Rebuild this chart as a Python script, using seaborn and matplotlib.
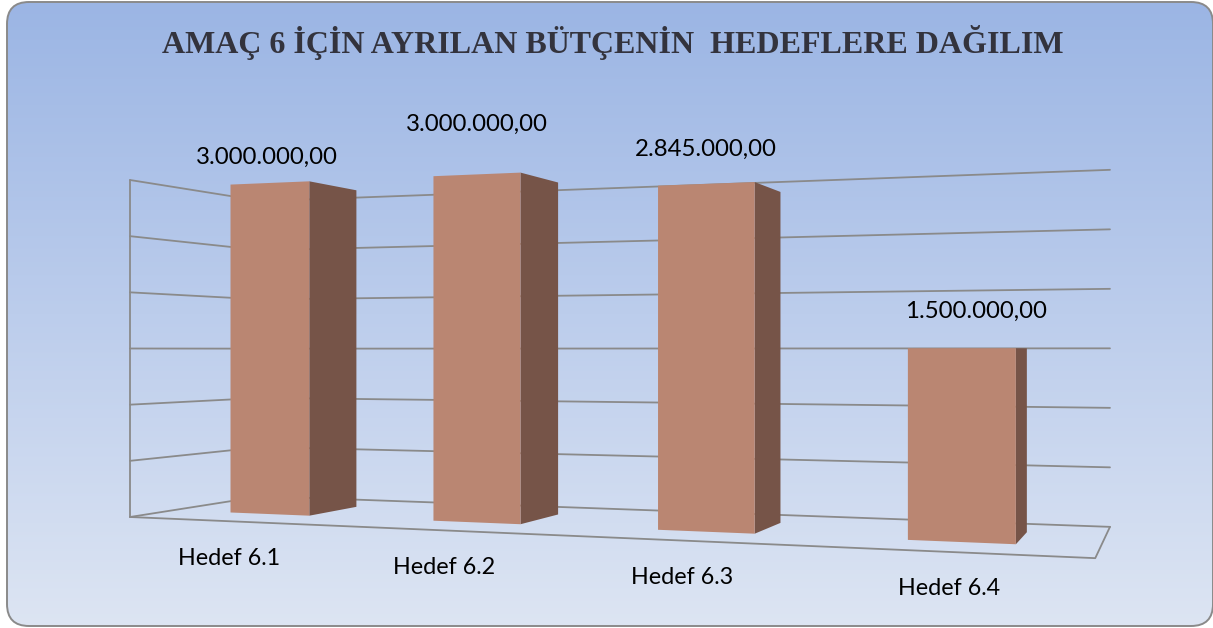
import numpy as np
import matplotlib
matplotlib.use('Agg')
import matplotlib.pyplot as plt
import seaborn as sns
from matplotlib.transforms import Transform, IdentityTransform, blended_transform_factory
from matplotlib.patches import FancyBboxPatch
from matplotlib.colors import LinearSegmentedColormap

# ── data ────────────────────────────────────────────────────────────────────
categories = ['Hedef 6.1', 'Hedef 6.2', 'Hedef 6.3', 'Hedef 6.4']
budgets = [3000000, 3000000, 2845000, 1500000]
grid_ticks = [0, 500000, 1000000, 1500000, 2000000, 2500000, 3000000]
title = 'AMAÇ 6 İÇİN AYRILAN BÜTÇENİN  HEDEFLERE DAĞILIM'

# value labels were nudged by hand in the original slide (pixels: right, up)
label_offsets = [(-3, 26), (0, 50), (0, 35), (15, 37)]

W, H = 1213, 628
FRONT, BACK = 0.3, 0.7   # bar depth inside the box (0 = floor front, 1 = back wall)
BAR_FRONT, BAR_SIDE = '#ba8672', '#765448'
GRID = '#8a8a8a'


# ── 3D box "camera": (X, Y, Z) in 0..1 -> figure pixels ───────────────────
class BoxView(Transform):
    input_dims = output_dims = 2
    is_separable = False
    has_inverse = False

    def __init__(self, plane, const):
        super().__init__()
        self.plane, self.const = plane, const

    def transform_non_affine(self, values):
        values = np.asarray(values, dtype=float)
        pts = values.reshape(-1, 2)
        a, b = pts[:, 0], pts[:, 1]
        c = np.full_like(a, self.const)
        X, Y, Z = {'y': (a, c, b), 'x': (c, a, b), 'z': (a, b, c)}[self.plane]
        w = 1 - 0.1979 * X + 0.1418 * Y
        u = (130 + 748.5 * X + 169.2 * Y) / w
        v = (517 - 69.3 * X + 49.6 * Y - 337 * Z) / w
        out = np.column_stack([u, H - v])
        return out.reshape(values.shape)


sns.set_theme(style='white')
plt.rcParams['font.family'] = ['Lato', 'DejaVu Sans']

fig = plt.figure(figsize=(W / 100, H / 100), dpi=100)
fig.patch.set_facecolor('white')

# ── background: rounded frame with vertical gradient ───────────────────────
bg = fig.add_axes([0, 0, 1, 1])
bg.set_xlim(0, W)
bg.set_ylim(H, 0)
bg.axis('off')
frame = FancyBboxPatch((7, 2), W - 7, H - 4, boxstyle='round,pad=0,rounding_size=22',
                       fc='none', ec='#8a8a8a', lw=1.4, zorder=5)
bg.add_patch(frame)
cmap = LinearSegmentedColormap.from_list('bg', ['#9bb5e4', '#bccdec', '#dde5f3'])
img = bg.imshow(np.linspace(0, 1, 256).reshape(-1, 1), cmap=cmap,
                extent=[0, W, H, 0], aspect='auto', zorder=0)
img.set_clip_path(frame)

# ── bars ────────────────────────────────────────────────────────────────────
ax = fig.add_axes([0, 0, 1, 1])
ax.patch.set_alpha(0)
sns.barplot(x=categories, y=budgets, color=BAR_FRONT, saturation=1, width=0.4,
            linewidth=0, ax=ax, zorder=3)
ax.set_xlim(-0.5, 3.5)
ax.set_ylim(0, grid_ticks[-1])
ax.axis('off')
xmin, xmax = ax.get_xlim()

to_frac = ax.transScale + ax.transLimits
front = to_frac + BoxView('y', FRONT)
back = to_frac + BoxView('y', 1.0)
side_in = blended_transform_factory(IdentityTransform(), to_frac)
left = side_in + BoxView('x', 0.0)
floor = blended_transform_factory(to_frac, IdentityTransform()) + BoxView('z', 0.0)

bars = list(ax.patches)
for p in bars:
    p.set_transform(front)
    xr = to_frac.transform([p.get_x() + p.get_width(), 0])[0]
    h = p.get_height()
    ax.fill([FRONT, BACK, BACK, FRONT], [0, 0, h, h], color=BAR_SIDE, lw=0,
            transform=side_in + BoxView('x', xr), zorder=2.9)

# ── walls, floor and gridlines ─────────────────────────────────────────────
grid_kw = dict(color=GRID, lw=1.3, zorder=1, solid_capstyle='round')
for t in grid_ticks:
    ax.plot([xmin, xmax], [t, t], transform=back, **grid_kw)
    ax.plot([0, 1], [t, t], transform=left, **grid_kw)
ax.plot([0, 0], [0, grid_ticks[-1]], transform=left, **grid_kw)
ax.plot([1, 1], [0, grid_ticks[-1]], transform=left, **grid_kw)
ax.plot([xmin, xmax, xmax], [0, 0, 1], transform=floor, **grid_kw)

# ── labels ─────────────────────────────────────────────────────────────────
for p, cat, v, (dx, dy) in zip(bars, categories, budgets, label_offsets):
    cx = p.get_x() + p.get_width() / 2
    txt = f'{v:,.2f}'.replace(',', ' ').replace('.', ',').replace(' ', '.')
    ax.annotate(txt, xy=(cx, v), xycoords=front, xytext=(dx, dy),
                textcoords='offset pixels', ha='center', va='center',
                fontsize=17.3, color='black')
    ax.annotate(cat, xy=(cx, 0), xycoords=floor, xytext=(0, -37),
                textcoords='offset pixels', ha='center', va='center',
                fontsize=16.8, color='black')

fig.text(0.505, 1 - 42 / H, title, ha='center', va='center',
         family='Liberation Serif', fontweight='bold', fontsize=23, color='#33333d')

plt.savefig('out.png', dpi=100)
